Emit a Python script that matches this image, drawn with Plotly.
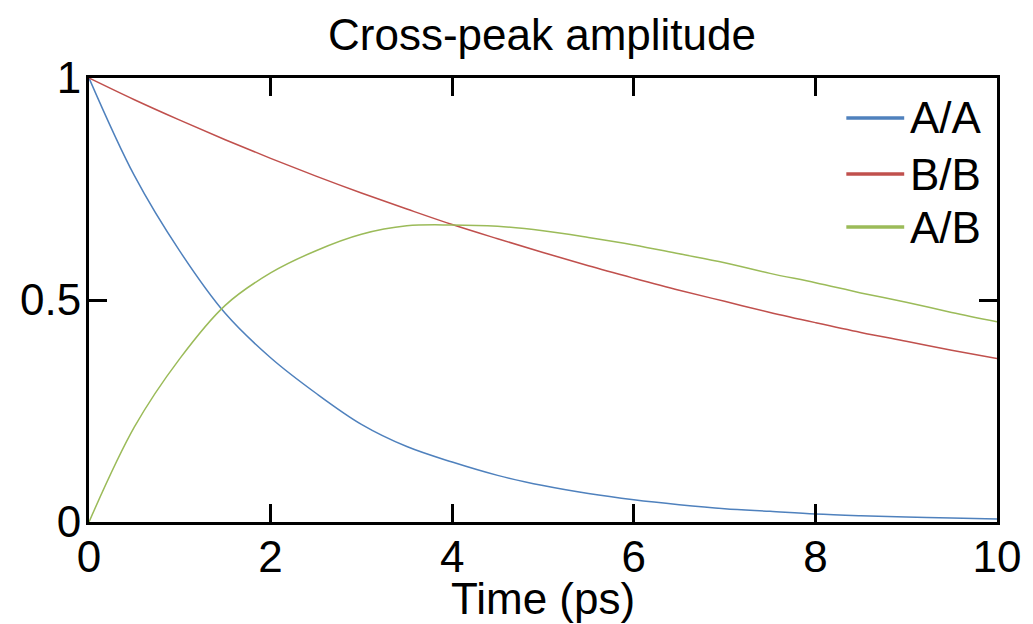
import plotly.graph_objects as go

time_ps = [0, 0.5, 1, 1.5, 2, 2.5, 3, 3.5, 4, 4.5, 5, 5.5, 6, 6.5, 7, 7.5, 8, 8.5, 9, 9.5, 10]
aa = [1.0, 0.78, 0.61, 0.47, 0.37, 0.29, 0.22, 0.17, 0.135, 0.105, 0.082, 0.064, 0.05,
      0.039, 0.03, 0.024, 0.018, 0.014, 0.011, 0.009, 0.007]
bb = [1.0, 0.951, 0.905, 0.861, 0.819, 0.779, 0.741, 0.705, 0.670, 0.638, 0.607, 0.577,
      0.549, 0.522, 0.497, 0.472, 0.449, 0.427, 0.407, 0.387, 0.368]
ab = [0.0, 0.214, 0.368, 0.488, 0.561, 0.611, 0.648, 0.667, 0.669, 0.666, 0.656, 0.641,
      0.624, 0.604, 0.584, 0.560, 0.539, 0.516, 0.495, 0.472, 0.451]

series_names = ["A/A", "B/B", "A/B"]
series_colors = ["#4F81BD", "#C0504D", "#9BBB59"]
x_ticks = [0, 2, 4, 6, 8, 10]
x_tick_labels = ["0", "2", "4", "6", "8", "10"]
y_ticks = [0, 0.5, 1]
y_tick_labels = ["0", "0.5", "1"]

FONT = "Liberation Sans, Arial, sans-serif"
FS = 44

# the page body adds an 8px margin, so the figure is sized to fit the window
W, H = 1025, 616
ML, MR, MT, MB = 80, 35, 70, 102
PW, PH = W - ML - MR, H - MT - MB

fig = go.Figure()
for name, ys, col in zip(series_names, [aa, bb, ab], series_colors):
    fig.add_trace(go.Scatter(x=time_ps, y=ys, mode="lines", name=name, showlegend=False,
                             line=dict(color=col, width=1.5, shape="spline", smoothing=1.0)))

axis_common = dict(showline=True, linecolor="black", linewidth=3, mirror="ticks",
                   ticks="inside", ticklen=18, tickwidth=2.5, tickcolor="black",
                   showgrid=False, zeroline=False,
                   tickfont=dict(size=FS, color="black", family=FONT))

fig.update_xaxes(range=[0, 10], tickvals=x_ticks, ticktext=x_tick_labels,
                 ticklabelstandoff=-6, **axis_common)
fig.update_yaxes(range=[0, 1], tickvals=y_ticks, ticktext=y_tick_labels,
                 ticklabelstandoff=-4, **axis_common)

# x-axis title
fig.add_annotation(text="Time (ps)", xref="paper", yref="paper", x=0.5, y=-(590 - (H - MB)) / PH,
                   xanchor="center", yanchor="middle", showarrow=False,
                   font=dict(size=FS, color="black", family=FONT))

# manual legend (thick short line samples + labels)
legend_y_px = [110, 166, 219]  # figure pixel rows of legend entries
for name, col, ypx in zip(series_names, series_colors, legend_y_px):
    yp = (H - MB - ypx) / PH
    fig.add_shape(type="line", xref="paper", yref="paper",
                  x0=(839 - ML) / PW, x1=(897 - ML) / PW, y0=yp, y1=yp,
                  line=dict(color=col, width=3.5))
    fig.add_annotation(text=name, xref="paper", yref="paper", x=(901 - ML) / PW, y=yp,
                       xanchor="left", yanchor="middle", showarrow=False,
                       font=dict(size=FS, color="black", family=FONT))

fig.update_layout(
    width=W, height=H,
    margin=dict(l=ML, r=MR, t=MT, b=MB),
    paper_bgcolor="white", plot_bgcolor="white",
    font=dict(family=FONT, size=FS, color="black"),
    title=dict(text="Cross-peak amplitude", x=(534) / W, xanchor="center", y=1 - 27 / H,
               yanchor="middle", yref="container",
               font=dict(size=FS, color="black", family=FONT)),
    showlegend=False,
)

fig.write_html("out.html")
